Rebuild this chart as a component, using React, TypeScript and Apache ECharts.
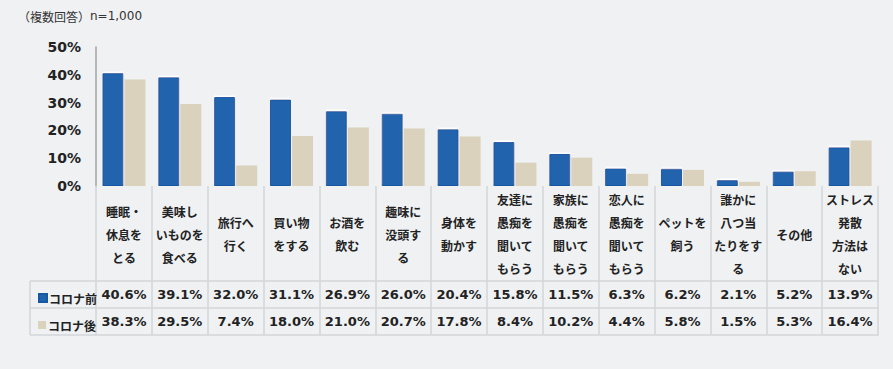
import React, { useEffect, useRef } from "react";
import * as echarts from "echarts";

const titlePrefix = "（複数回答）";
const titleN = "n=1,000";
const seriesNames = ["コロナ前", "コロナ後"];
const categories = [
  "睡眠・\n休息を\nとる",
  "美味し\nいものを\n食べる",
  "旅行へ\n行く",
  "買い物\nをする",
  "お酒を\n飲む",
  "趣味に\n没頭す\nる",
  "身体を\n動かす",
  "友達に\n愚痴を\n聞いて\nもらう",
  "家族に\n愚痴を\n聞いて\nもらう",
  "恋人に\n愚痴を\n聞いて\nもらう",
  "ペットを\n飼う",
  "誰かに\n八つ当\nたりをす\nる",
  "その他",
  "ストレス\n発散\n方法は\nない",
];
const before = [40.6, 39.1, 32.0, 31.1, 26.9, 26.0, 20.4, 15.8, 11.5, 6.3, 6.2, 2.1, 5.2, 13.9];
const after = [38.3, 29.5, 7.4, 18.0, 21.0, 20.7, 17.8, 8.4, 10.2, 4.4, 5.8, 1.5, 5.3, 16.4];
const yMax = 50;
const yInterval = 10;

const BLUE = "#2164ae";
const BEIGE = "#dad2bc";
const BG = "#eff1f3";
const TABLE_LINE = "#d3d6d9";
const GRID_LINE = "#a3a3a3";
const NUM_FONT = "DejaVu Sans";
const JP_FONT = "Noto Sans CJK JP";

export default function App() {
  const ref = useRef<HTMLDivElement>(null);
  useEffect(() => {
    document.body.style.margin = "0";
    const chart = echarts.init(ref.current!, null, { renderer: "svg" });
    const tableAxis = (offset: number, values: number[] | null) => ({
      type: "category",
      data: categories,
      position: "bottom",
      offset,
      axisLine: { show: true, lineStyle: { color: TABLE_LINE, width: 1.5 } },
      axisTick: { show: false },
      axisLabel: values
        ? {
            show: true,
            interval: 0,
            margin: 13.5,
            verticalAlign: "middle",
            fontFamily: NUM_FONT,
            fontWeight: "bold",
            fontSize: 13,
            color: "#222",
            formatter: (_v: string, i: number) => values[i].toFixed(1) + "%",
          }
        : { show: false },
    });
    const legendText = { fontFamily: JP_FONT, fontWeight: "bold", fontSize: 12, color: "#222", padding: [0, 0, 0, -3] };
    chart.setOption({
      animation: false,
      backgroundColor: BG,
      title: {
        text: `{a|${titlePrefix}}{b|${titleN}}`,
        left: 13,
        top: 5,
        textStyle: {
          fontWeight: "normal",
          rich: {
            a: { fontFamily: JP_FONT, fontSize: 12, fontWeight: "normal", color: "#333" },
            b: { fontFamily: NUM_FONT, fontSize: 12, fontWeight: "normal", color: "#333" },
          },
        },
      },
      legend: [
        { data: [seriesNames[0]], left: 33, top: 287, itemWidth: 8, itemHeight: 8, itemGap: 0, icon: "rect", textStyle: legendText, selectedMode: false },
        { data: [seriesNames[1]], left: 33, top: 314, itemWidth: 8, itemHeight: 8, itemGap: 0, icon: "rect", textStyle: legendText, selectedMode: false },
      ],
      grid: { left: 96, right: 15, top: 47, bottom: 183, containLabel: false },
      xAxis: [
        {
          type: "category",
          data: categories,
          axisLine: { show: true, lineStyle: { color: GRID_LINE, width: 2, shadowColor: "#ffffff", shadowOffsetY: 1.5, shadowBlur: 0 } },
          axisTick: { show: true, length: 149, lineStyle: { color: TABLE_LINE, width: 1.5 } },
          axisLabel: {
            interval: 0,
            margin: 48,
            verticalAlign: "middle",
            fontFamily: JP_FONT,
            fontWeight: "bold",
            fontSize: 12,
            lineHeight: 23,
            color: "#222",
          },
        },
        tableAxis(95, before),
        tableAxis(122, after),
        tableAxis(149, null),
      ],
      yAxis: {
        type: "value",
        min: 0,
        max: yMax,
        interval: yInterval,
        axisLine: { show: true, lineStyle: { color: GRID_LINE, width: 1.5 } },
        axisTick: { show: false },
        splitLine: { lineStyle: { color: GRID_LINE, width: 2, shadowColor: "#ffffff", shadowOffsetY: 1.5, shadowBlur: 0 } },
        axisLabel: {
          margin: 15,
          formatter: "{value}%",
          fontFamily: NUM_FONT,
          fontWeight: "bold",
          fontSize: 14,
          color: "#222",
        },
      },
      graphic: [
        { type: "line", shape: { x1: 30, y1: 281, x2: 96, y2: 281 }, style: { stroke: TABLE_LINE, lineWidth: 1.5 } },
        { type: "line", shape: { x1: 30, y1: 308, x2: 96, y2: 308 }, style: { stroke: TABLE_LINE, lineWidth: 1.5 } },
        { type: "line", shape: { x1: 30, y1: 335, x2: 96, y2: 335 }, style: { stroke: TABLE_LINE, lineWidth: 1.5 } },
        { type: "line", shape: { x1: 30, y1: 281, x2: 30, y2: 335 }, style: { stroke: TABLE_LINE, lineWidth: 1.5 } },
      ],
      series: [
        {
          name: seriesNames[0],
          type: "bar",
          data: before,
          barWidth: 21,
          barGap: "5%",
          itemStyle: { color: BLUE, borderColor: "#1857a2", borderWidth: 1, shadowColor: "#ffffff", shadowBlur: 0, shadowOffsetY: -1.5 },
          z: 3,
        },
        {
          name: seriesNames[1],
          type: "bar",
          data: after,
          barWidth: 21,
          itemStyle: { color: BEIGE },
          z: 3,
        },
      ],
    });
    return () => chart.dispose();
  }, []);
  return <div ref={ref} style={{ width: 893, height: 369 }} />;
}
